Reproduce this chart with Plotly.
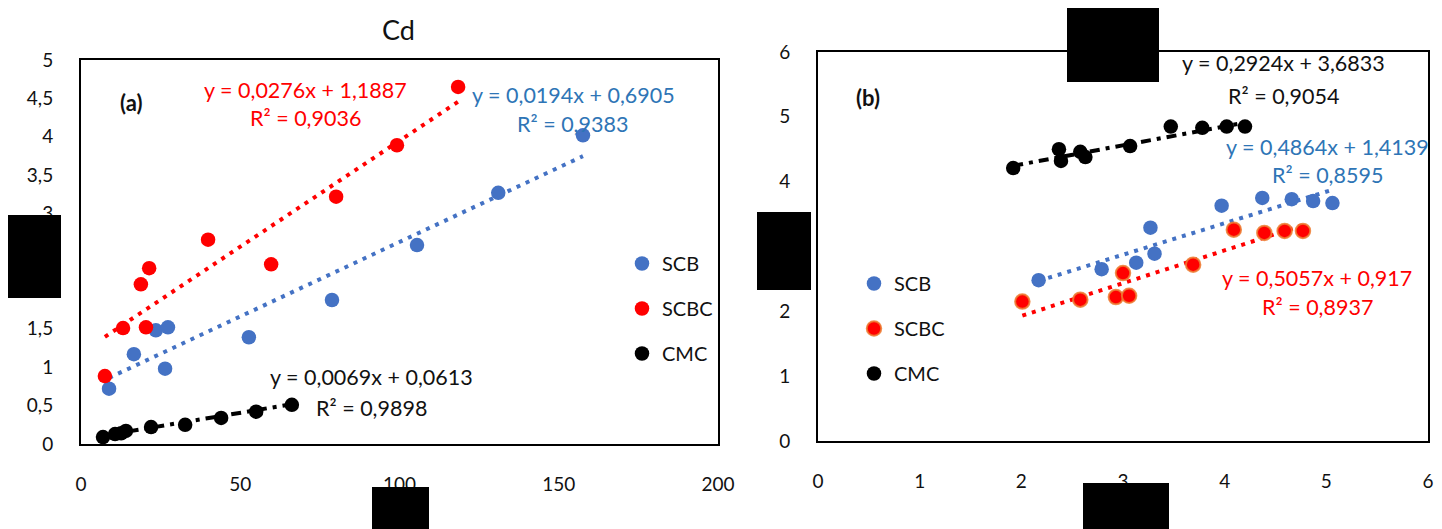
import plotly.graph_objects as go

W, H = 1442, 529
OFF = 8  # default page body margin in the browser

# ---------------- data: panel (a) Cd ----------------
a_scb_x = [8.8, 16.6, 23.5, 27.3, 26.4, 52.7, 78.8, 105.5, 131.0, 157.6]
a_scb_y = [0.72, 1.17, 1.48, 1.52, 0.98, 1.39, 1.875, 2.59, 3.27, 4.02]
a_scbc_x = [7.5, 13.2, 20.4, 18.8, 21.4, 39.9, 59.7, 80.1, 99.2, 118.4]
a_scbc_y = [0.885, 1.51, 1.52, 2.08, 2.29, 2.66, 2.34, 3.22, 3.89, 4.65]
a_cmc_x = [6.9, 10.7, 12.6, 14.1, 22.0, 32.7, 44.0, 55.0, 66.2]
a_cmc_y = [0.09, 0.13, 0.14, 0.17, 0.22, 0.25, 0.34, 0.42, 0.51]

a_fit_scb = (0.0194, 0.6905, "y = 0,0194x + 0,6905", "R² = 0,9383")
a_fit_scbc = (0.0276, 1.1887, "y = 0,0276x + 1,1887", "R² = 0,9036")
a_fit_cmc = (0.0069, 0.0613, "y = 0,0069x + 0,0613", "R² = 0,9898")

# ---------------- data: panel (b) ----------------
b_scb_x = [2.17, 2.79, 3.13, 3.27, 3.31, 3.97, 4.37, 4.66, 4.87, 5.06]
b_scb_y = [2.48, 2.65, 2.75, 3.29, 2.89, 3.63, 3.75, 3.73, 3.70, 3.67]
b_scbc_x = [2.01, 2.58, 2.93, 3.00, 3.06, 3.69, 4.09, 4.39, 4.59, 4.77]
b_scbc_y = [2.15, 2.18, 2.22, 2.59, 2.24, 2.72, 3.26, 3.21, 3.24, 3.24]
b_cmc_x = [1.92, 2.37, 2.39, 2.58, 2.63, 3.07, 3.47, 3.78, 4.02, 4.20]
b_cmc_y = [4.21, 4.50, 4.32, 4.46, 4.38, 4.55, 4.85, 4.83, 4.85, 4.85]

b_fit_scb = (0.4864, 1.4139, "y = 0,4864x + 1,4139", "R² = 0,8595")
b_fit_scbc = (0.5057, 0.917, "y = 0,5057x + 0,917", "R² = 0,8937")
b_fit_cmc = (0.2924, 3.6833, "y = 0,2924x + 3,6833", "R² = 0,9054")

series_names = ["SCB", "SCBC", "CMC"]
title_a = "Cd"

BLUE = "#4472C4"
RED = "#FF0000"
BLACK = "#000000"
BLUE_TXT = "#2E75B6"
FONT = "Lato"


def px(x):
    return (x - OFF) / W


def py(y):
    return 1 - (y - OFF) / H


fig = go.Figure()


def add_fit(xs, fit, color, dash, xa, ya):
    m, c = fit[0], fit[1]
    x0, x1 = min(xs), max(xs)
    fig.add_trace(go.Scatter(x=[x0, x1], y=[m * x0 + c, m * x1 + c], mode="lines",
                             line=dict(color=color, width=4, dash=dash),
                             showlegend=False, hoverinfo="skip", xaxis=xa, yaxis=ya))


DOT = "4px,6px"
DASHDOT = "10px,6px,4px,6px"

# panel a trendlines
add_fit(a_scb_x, a_fit_scb, BLUE, DOT, "x", "y")
add_fit(a_scbc_x, a_fit_scbc, RED, DOT, "x", "y")
add_fit(a_cmc_x, a_fit_cmc, BLACK, DASHDOT, "x", "y")
# panel b trendlines
add_fit(b_scb_x, b_fit_scb, BLUE, DOT, "x2", "y2")
add_fit(b_scbc_x, b_fit_scbc, RED, DOT, "x2", "y2")
add_fit(b_cmc_x, b_fit_cmc, BLACK, DASHDOT, "x2", "y2")

MS = 14.5
# panel a points
for i, (xs, ys, col) in enumerate([(a_scb_x, a_scb_y, BLUE), (a_scbc_x, a_scbc_y, RED), (a_cmc_x, a_cmc_y, BLACK)]):
    fig.add_trace(go.Scatter(x=xs, y=ys, mode="markers", name=series_names[i],
                             marker=dict(color=col, size=MS, line=dict(width=0)),
                             legendgroup="a%d" % i, legend="legend",
                             xaxis="x", yaxis="y"))
# panel b points
bstyles = [dict(color=BLUE, size=MS, line=dict(width=0)),
           dict(color=RED, size=MS, line=dict(width=2, color="rgba(237,125,49,0.85)")),
           dict(color=BLACK, size=MS, line=dict(width=0))]
for i, (xs, ys) in enumerate([(b_scb_x, b_scb_y), (b_scbc_x, b_scbc_y), (b_cmc_x, b_cmc_y)]):
    fig.add_trace(go.Scatter(x=xs, y=ys, mode="markers", name=series_names[i],
                             marker=bstyles[i], legendgroup="b%d" % i, legend="legend2",
                             xaxis="x2", yaxis="y2"))

axis_common = dict(showgrid=False, zeroline=False, showline=True, mirror=True,
                   linecolor="black", linewidth=2, ticks="outside", ticklen=22,
                   tickcolor="rgba(0,0,0,0)", tickfont=dict(family=FONT, size=19, color="#111"),
                   fixedrange=True, automargin=False)

fig.update_layout(
    width=W, height=H,
    margin=dict(l=0, r=0, t=0, b=0, pad=0, autoexpand=False),
    paper_bgcolor="white", plot_bgcolor="white",
    separators=", ",
    font=dict(family=FONT, color="black"),
    xaxis=dict(axis_common, domain=[px(81), px(718)], range=[0, 200], dtick=50, anchor="y"),
    yaxis=dict(axis_common, domain=[py(444), py(60)], range=[0, 5], dtick=0.5, anchor="x"),
    xaxis2=dict(axis_common, domain=[px(818), px(1428)], range=[0, 6], dtick=1, anchor="y2"),
    yaxis2=dict(axis_common, domain=[py(441), py(52)], range=[0, 6], dtick=1, anchor="x2"),
    legend=dict(x=px(622), y=py(244), xanchor="left", yanchor="top", bgcolor="rgba(0,0,0,0)",
                font=dict(family=FONT, size=20, color="#111"), tracegroupgap=16,
                itemwidth=30, traceorder="grouped"),
    legend2=dict(x=px(854), y=py(264), xanchor="left", yanchor="top", bgcolor="rgba(0,0,0,0)",
                 font=dict(family=FONT, size=20, color="#111"), tracegroupgap=16,
                 itemwidth=30, traceorder="grouped"),
    showlegend=True,
)

ann = []


def text(x, y, s, color, size=21.5, bold=False):
    ann.append(dict(x=px(x), y=py(y), xref="paper", yref="paper", text=("<b>%s</b>" % s) if bold else s,
                    showarrow=False, xanchor="center", yanchor="middle",
                    font=dict(family=FONT, size=size, color=color)))


text(398, 30, title_a, "#111", size=27)
text(131, 102, "(a)", "#111", size=22, bold=True)
text(868, 97, "(b)", "#111", size=22, bold=True)

text(305, 90, a_fit_scbc[2], RED)
text(305, 118, a_fit_scbc[3], RED)
text(573, 95, a_fit_scb[2], BLUE_TXT)
text(572, 124, a_fit_scb[3], BLUE_TXT)
text(371, 377, a_fit_cmc[2], "#111")
text(371, 408, a_fit_cmc[3], "#111")

text(1283, 63, b_fit_cmc[2], "#111")
text(1283, 96, b_fit_cmc[3], "#111")
text(1327, 147, b_fit_scb[2], BLUE_TXT)
text(1327, 175, b_fit_scb[3], BLUE_TXT)
text(1317, 278, b_fit_scbc[2], RED)
text(1317, 307, b_fit_scbc[3], RED)

fig.update_layout(annotations=ann)

# redaction boxes present in the reference image
boxes = [(7, 215, 61, 298), (372, 487, 429, 537), (757, 212, 811, 290),
         (1067, 3, 1159, 82), (1083, 483, 1169, 537)]
for x0, y0, x1, y1 in boxes:
    fig.add_shape(type="rect", xref="paper", yref="paper", x0=px(x0), x1=px(x1), y0=py(y1), y1=py(y0),
                  fillcolor="black", line=dict(width=0), layer="above")

fig.write_html("out.html")
